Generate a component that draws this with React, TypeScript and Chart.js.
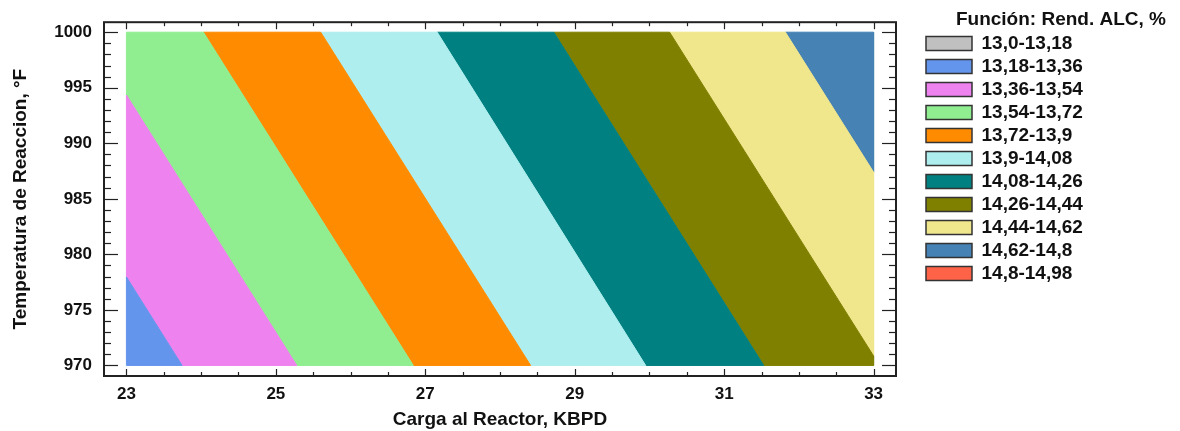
import { useEffect, useRef } from 'react';
import { Chart, registerables } from 'chart.js';

Chart.register(...registerables);

// Contour levels (legend)
const levelLabels = [
  '13,0-13,18', '13,18-13,36', '13,36-13,54', '13,54-13,72', '13,72-13,9', '13,9-14,08',
  '14,08-14,26', '14,26-14,44', '14,44-14,62', '14,62-14,8', '14,8-14,98',
];
const levelColors = [
  '#C0C0C0', '#6495ED', '#EE82EE', '#90EE90', '#FF8C00', '#AFEEEE',
  '#008080', '#808000', '#F0E68C', '#4682B4', '#FF6347',
];

// Bands visible in the plot (index into the levels above), left to right
const bandLevels = [1, 2, 3, 4, 5, 6, 7, 8, 9];
// Contour boundaries between consecutive bands: Carga value where each contour crosses T=1000 and T=970
const boundaryXAtTop = [20.94, 22.47, 24.03, 25.6, 27.16, 28.72, 30.27, 31.82];
const boundaryXAtBottom = [23.745, 25.28, 26.84, 28.41, 29.95, 31.53, 33.08, 34.63];

// Data domain & axis ranges
const xDomain = [23, 33];
const yDomain = [970, 1000];
const xAxisRange = [22.7, 33.3];
const yAxisRange = [969.05, 1000.9];

// Ticks
const xMajorTicks = [23, 25, 27, 29, 31, 33];
const xMinorTicks = [23.5, 24, 24.5, 25.5, 26, 26.5, 27.5, 28, 28.5, 29.5, 30, 30.5, 31.5, 32, 32.5];
const yMajorTicks = [970, 975, 980, 985, 990, 995, 1000];
const yMinorTicks = [
  971, 972, 973, 974, 976, 977, 978, 979, 981, 982, 983, 984, 986, 987, 988, 989,
  991, 992, 993, 994, 996, 997, 998, 999,
];

const FONT = "'Liberation Sans', Arial, sans-serif";

type P = { x: number; y: number };

function clipPoly(pts: P[], inside: (p: P) => boolean, cross: (a: P, b: P) => P): P[] {
  const out: P[] = [];
  for (let i = 0; i < pts.length; i++) {
    const cur = pts[i];
    const prev = pts[(i + pts.length - 1) % pts.length];
    const ci = inside(cur);
    const pi = inside(prev);
    if (ci) {
      if (!pi) out.push(cross(prev, cur));
      out.push(cur);
    } else if (pi) {
      out.push(cross(prev, cur));
    }
  }
  return out;
}

function crossAtX(xv: number) {
  return (a: P, b: P): P => {
    const t = (xv - a.x) / (b.x - a.x);
    return { x: xv, y: a.y + t * (b.y - a.y) };
  };
}

function bandPolygon(k: number): P[] {
  const last = bandLevels.length - 1;
  const left = k === 0 ? [xDomain[0] - 100, xDomain[0] - 100] : [boundaryXAtTop[k - 1], boundaryXAtBottom[k - 1]];
  const right = k === last ? [xDomain[1] + 100, xDomain[1] + 100] : [boundaryXAtTop[k], boundaryXAtBottom[k]];
  let poly: P[] = [
    { x: left[0], y: yDomain[1] },
    { x: right[0], y: yDomain[1] },
    { x: right[1], y: yDomain[0] },
    { x: left[1], y: yDomain[0] },
  ];
  poly = clipPoly(poly, (p) => p.x >= xDomain[0], crossAtX(xDomain[0]));
  poly = clipPoly(poly, (p) => p.x <= xDomain[1], crossAtX(xDomain[1]));
  if (poly.length) poly.push({ ...poly[0] });
  return poly;
}

const framePlugin = {
  id: 'frameTicks',
  afterDatasetsDraw(chart: any) {
    const { ctx, chartArea: a, scales } = chart;
    const xs = scales.x;
    const ys = scales.y;
    ctx.save();
    ctx.strokeStyle = '#222';
    ctx.lineWidth = 1.2;
    const seg = (x1: number, y1: number, x2: number, y2: number) => {
      ctx.beginPath();
      ctx.moveTo(x1, y1);
      ctx.lineTo(x2, y2);
      ctx.stroke();
    };
    const xTick = (v: number, len: number) => {
      const px = Math.round(xs.getPixelForValue(v)) + 0.5;
      seg(px, a.bottom, px, a.bottom - len);
      seg(px, a.top, px, a.top + len);
    };
    const yTick = (v: number, len: number) => {
      const py = Math.round(ys.getPixelForValue(v)) + 0.5;
      seg(a.left, py, a.left + len, py);
      seg(a.right, py, a.right - len, py);
    };
    xMajorTicks.forEach((v) => xTick(v, 7));
    xMinorTicks.forEach((v) => xTick(v, 4));
    yMajorTicks.forEach((v) => yTick(v, 14));
    yMinorTicks.forEach((v) => yTick(v, 7));
    ctx.lineWidth = 2;
    ctx.strokeRect(a.left, a.top, a.right - a.left, a.bottom - a.top);
    ctx.restore();
  },
};

export default function App() {
  const ref = useRef<HTMLCanvasElement | null>(null);

  useEffect(() => {
    if (!ref.current) return;
    const datasets = bandLevels.map((lvl, k) => ({
      label: levelLabels[lvl],
      data: bandPolygon(k),
      showLine: true,
      fill: 'shape',
      backgroundColor: levelColors[lvl],
      borderColor: levelColors[lvl],
      borderWidth: 1,
      pointRadius: 0,
      pointHoverRadius: 0,
      tension: 0,
    }));

    const chart = new Chart(ref.current, {
      type: 'scatter',
      data: { datasets: datasets as any },
      plugins: [framePlugin],
      options: {
        animation: false,
        responsive: true,
        maintainAspectRatio: false,
        events: [],
        layout: { padding: { top: 10, right: 14, bottom: 0, left: 0 } },
        scales: {
          x: {
            type: 'linear',
            min: xAxisRange[0],
            max: xAxisRange[1],
            afterBuildTicks: (s: any) => {
              s.ticks = xMajorTicks.map((v) => ({ value: v }));
            },
            afterFit: (s: any) => {
              s.height = 55;
            },
            grid: { display: false, drawTicks: false },
            border: { display: false },
            ticks: {
              padding: 8,
              color: '#111',
              font: { family: FONT, size: 17, weight: 'bold' },
              callback: (v: any) => String(v),
            },
            title: {
              display: true,
              text: 'Carga al Reactor, KBPD',
              color: '#111',
              font: { family: FONT, size: 19, weight: 'bold' },
              padding: { top: 0, bottom: 0 },
            },
          },
          y: {
            type: 'linear',
            min: yAxisRange[0],
            max: yAxisRange[1],
            afterBuildTicks: (s: any) => {
              s.ticks = yMajorTicks.map((v) => ({ value: v }));
            },
            afterFit: (s: any) => {
              s.width = 104;
            },
            grid: { display: false, drawTicks: false },
            border: { display: false },
            ticks: {
              padding: 12,
              color: '#111',
              font: { family: FONT, size: 17, weight: 'bold' },
              callback: (v: any) => String(v),
            },
            title: {
              display: true,
              text: 'Temperatura de Reaccion, °F',
              color: '#111',
              font: { family: FONT, size: 19, weight: 'bold' },
              padding: { top: 9, bottom: 0 },
            },
          },
          y2: {
            type: 'linear',
            position: 'right',
            display: true,
            afterFit: (s: any) => {
              s.width = 26;
            },
            grid: { display: false, drawTicks: false },
            border: { display: false },
            ticks: { display: false },
          },
        },
        plugins: {
          tooltip: { enabled: false },
          legend: {
            position: 'right',
            align: 'start',
            maxWidth: 244,
            onClick: () => {},
            title: {
              display: true,
              text: 'Función: Rend. ALC, %',
              position: 'end',
              color: '#111',
              font: { family: FONT, size: 19, weight: 'bold', lineHeight: 1 },
              padding: { top: 0, bottom: 1 },
            },
            labels: {
              boxWidth: 46,
              boxHeight: 14,
              padding: 4,
              color: '#111',
              font: { family: FONT, size: 19, weight: 'bold' },
              generateLabels: () =>
                levelLabels.map((t, i) => ({
                  // trailing spaces only widen the legend box so the title fits
                  text: t + ' '.repeat(40),
                  fillStyle: levelColors[i],
                  strokeStyle: '#333',
                  lineWidth: 1.5,
                  hidden: false,
                  fontColor: '#111',
                })),
            },
          },
        },
      } as any,
    });
    return () => chart.destroy();
  }, []);

  return (
    <div style={{ position: 'absolute', left: 0, top: 0, width: 1180, height: 431, background: '#fff' }}>
      <canvas ref={ref} style={{ display: 'block' }} />
    </div>
  );
}
